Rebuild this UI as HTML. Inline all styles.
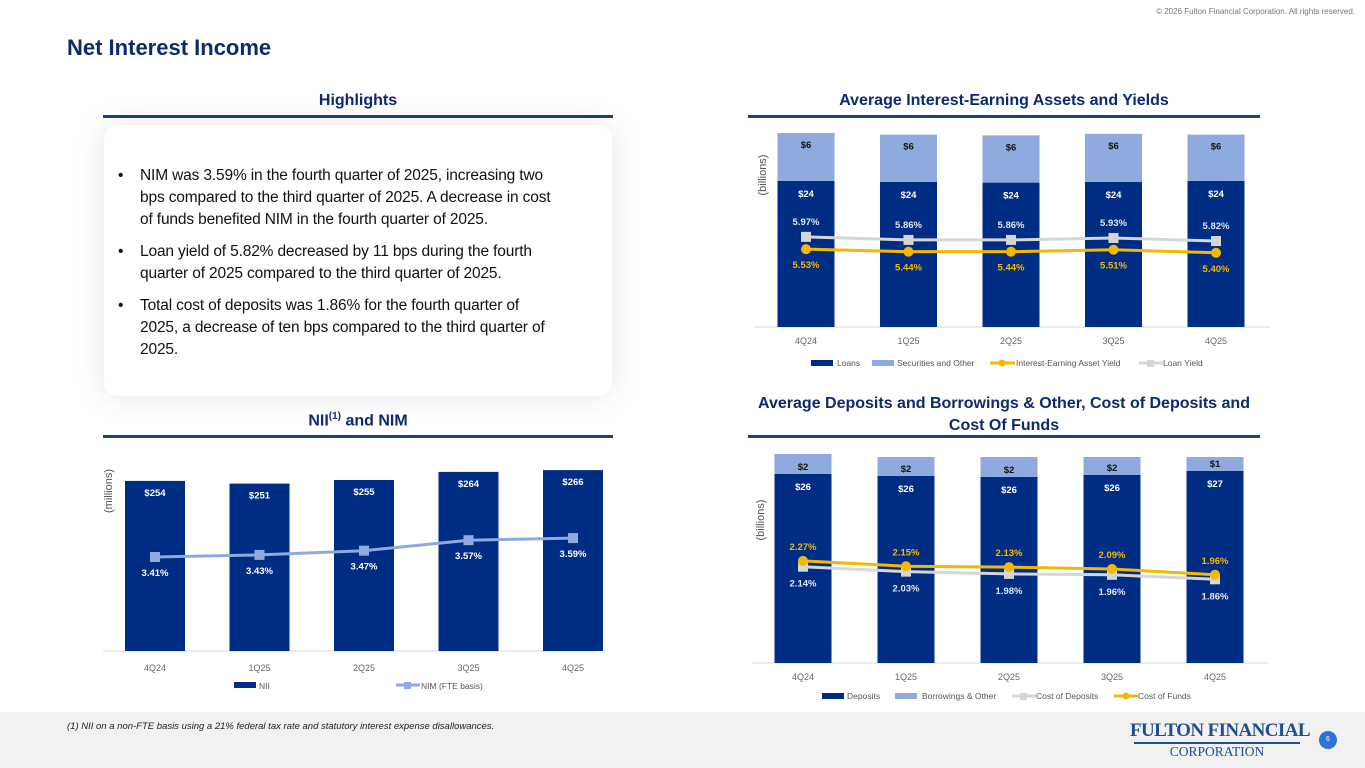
<!DOCTYPE html>
<html><head><meta charset="utf-8"><title>Net Interest Income</title>
<style>
body{margin:0;width:1365px;height:768px;position:relative;overflow:hidden;background:#fff;font-family:"Liberation Sans",sans-serif;}
.abs{position:absolute;}
.h{position:absolute;color:#0b2a6f;font-weight:bold;font-size:16px;text-align:center;}
.rule{position:absolute;height:3px;background:#223f7e;}
.card{position:absolute;left:104px;top:125px;width:508px;height:271px;background:#fff;border-radius:14px;box-shadow:0 0 30px rgba(0,0,0,0.10);}
.card ul{margin:0;padding:0 0 0 36px;list-style:none;color:#111;font-size:15.5px;line-height:22px;}
.card li{position:relative;margin-bottom:10px;white-space:nowrap;letter-spacing:-0.15px}
.card li:before{content:"•";position:absolute;left:-22px;}
</style></head><body>
<div class="abs" style="right:10px;top:7px;font-size:8px;color:#777;">© 2026 Fulton Financial Corporation.  All rights reserved.</div>
<div class="abs" style="left:67px;top:35px;font-size:22px;font-weight:bold;color:#0b2a6f;">Net Interest Income</div>

<div class="h" style="left:103px;width:510px;top:92px;">Highlights</div>
<div class="rule" style="left:103px;width:510px;top:115px;"></div>
<div class="card">
<ul style="margin-top:40px">
<li>NIM was 3.59% in the fourth quarter of 2025, increasing two<br>bps compared to the third quarter of 2025. A decrease in cost<br>of funds benefited NIM in the fourth quarter of 2025.</li>
<li>Loan yield of 5.82% decreased by 11 bps during the fourth<br>quarter of 2025 compared to the third quarter of 2025.</li>
<li>Total cost of deposits was 1.86% for the fourth quarter of<br>2025, a decrease of ten bps compared to the third quarter of<br>2025.</li>
</ul></div>

<div class="h" style="left:748px;width:512px;top:92px;">Average Interest-Earning Assets and Yields</div>
<div class="rule" style="left:748px;width:512px;top:115px;"></div>

<div class="h" style="left:103px;width:510px;top:411px;">NII<sup style="font-size:10px">(1)</sup> and NIM</div>
<div class="rule" style="left:103px;width:510px;top:435px;"></div>

<div class="h" style="left:740px;width:528px;top:393px;line-height:22px;">Average Deposits and Borrowings &amp; Other, Cost of Deposits and Cost Of Funds</div>
<div class="rule" style="left:748px;width:512px;top:435px;"></div>

<div class="abs" style="left:0;top:712px;width:1365px;height:56px;background:#f1f1f1;"></div>
<div class="abs" style="left:67px;top:721px;font-size:9.5px;font-style:italic;color:#222;">(1) NII on a non-FTE basis using a 21% federal tax rate and statutory interest expense disallowances.</div>
<div class="abs" style="left:1130px;top:721px;width:174px;text-align:center;font-family:'Liberation Serif',serif;color:#1f4e8c;white-space:nowrap;">
<div style="font-size:19px;font-weight:bold;letter-spacing:-0.6px;line-height:20px;">FULTON FINANCIAL</div>
<div style="border-top:2px solid #1f4e8c;margin:1px 4px 0;"></div>
<div style="font-size:13.5px;line-height:16px;">CORPORATION</div></div>
<div class="abs" style="left:1319px;top:731px;width:18px;height:18px;border-radius:50%;background:#2d74d6;color:#fff;font-size:7px;text-align:center;line-height:18px;">6</div>

<svg id="chart" class="abs" style="left:0;top:0" width="1365" height="768"></svg>
<script>
const NS="http://www.w3.org/2000/svg";
const svg=document.getElementById('chart');
// Chart A: assets
const catsA=["4Q24","1Q25","2Q25","3Q25","4Q25"];
const loansA=[24.0,23.9,23.8,23.9,24.0];
const secA=[6.0,5.9,5.9,6.0,5.8];
const loanYield=[5.97,5.86,5.86,5.93,5.82];
const ieaYield=[5.53,5.44,5.44,5.51,5.40];
// Chart B: NII
const catsB=["4Q24","1Q25","2Q25","3Q25","4Q25"];
const nii=[254,251,255,264,266];
const nim=[3.41,3.43,3.47,3.57,3.59];
// Chart C: deposits
const catsC=["4Q24","1Q25","2Q25","3Q25","4Q25"];
const depC=[26.0,25.8,25.7,25.9,26.3];
const borC=[2.0,1.9,2.0,1.8,1.4];
const depLabels=["$26","$26","$26","$26","$27"];
const borLabels=["$2","$2","$2","$2","$1"];
const costDep=[2.14,2.03,1.98,1.96,1.86];
const costFunds=[2.27,2.15,2.13,2.09,1.96];

function el(tag,attrs,parent){const e=document.createElementNS(NS,tag);for(const k in attrs)e.setAttribute(k,attrs[k]);(parent||svg).appendChild(e);return e;}
function txt(x,y,s,size,fill,weight,anchor){const t=el('text',{x:x,y:y,'font-size':size,fill:fill,'font-weight':weight||'normal','text-anchor':anchor||'middle','font-family':'Liberation Sans, sans-serif'});t.textContent=s;return t;}
const NAVY="#002d84",LIGHT="#8eaadf",GOLD="#f5b800",GRAY="#d6d6d6";

// ---- Chart A
const xA=i=>806+i*102.5, yA=v=>327-(v-5.75)*8, rA=r=>404-28*r;
el('line',{x1:755,x2:1270,y1:327,y2:327,stroke:"#d9d9d9"});
catsA.forEach((c,i)=>{
 const x=xA(i);
 const top=yA(loansA[i]+secA[i]);
 let b=el('rect',{x:x-28.5,y:yA(loansA[i]),width:57,height:327-yA(loansA[i]),fill:NAVY});
 
 let s=el('rect',{x:x-28.5,y:top,width:57,height:yA(loansA[i])-top,fill:LIGHT});
 
 txt(x,top+15,"$"+Math.round(secA[i]),9.5,"#111","bold");
 txt(x,yA(loansA[i])+16,"$"+Math.round(loansA[i]),9.5,"#fff","bold");
 txt(x,344,c,9,"#666");
});
function line(xs,ys,color,marker,w){el('polyline',{points:xs.map((x,i)=>x+","+ys[i]).join(" "),fill:"none",stroke:color,'stroke-width':w||3});
 xs.forEach((x,i)=>{if(marker=='sq'){const m=el('rect',{x:x-5,y:ys[i]-5,width:10,height:10,fill:color});}else{const m=el('circle',{cx:x,cy:ys[i],r:5,fill:color});}});}
line(catsA.map((c,i)=>xA(i)),loanYield.map(rA),GRAY,'sq');
line(catsA.map((c,i)=>xA(i)),ieaYield.map(rA),GOLD,'c');
loanYield.forEach((v,i)=>txt(xA(i),rA(v)-12,v.toFixed(2)+"%",9.5,"#dfe6f5","bold"));
ieaYield.forEach((v,i)=>txt(xA(i),rA(v)+19,v.toFixed(2)+"%",9.5,GOLD,"bold"));
let ya=txt(766,175,"(billions)",11,"#555");ya.setAttribute('transform','rotate(-90 766 175)');
// legend A
el('rect',{x:811,y:360,width:22,height:6,fill:NAVY});txt(837,366,"Loans",8.5,"#555","normal","start");
el('rect',{x:872,y:360,width:22,height:6,fill:LIGHT});txt(897,366,"Securities and Other",8.5,"#555","normal","start");
el('line',{x1:990,x2:1015,y1:363,y2:363,stroke:GOLD,'stroke-width':3});el('circle',{cx:1002,cy:363,r:3.5,fill:GOLD});txt(1016,366,"Interest-Earning Asset Yield",8.5,"#555","normal","start");
el('line',{x1:1139,x2:1163,y1:363,y2:363,stroke:GRAY,'stroke-width':3});el('rect',{x:1147,y:360,width:7,height:7,fill:GRAY});txt(1163,366,"Loan Yield",8.5,"#555","normal","start");

// ---- Chart B
const xB=i=>155+i*104.5, yB=v=>651-(v-65)*0.9, rB=r=>557-(r-3.41)*105;
el('line',{x1:103,x2:597,y1:651,y2:651,stroke:"#d9d9d9"});
catsB.forEach((c,i)=>{const x=xB(i);
 let b=el('rect',{x:x-30,y:yB(nii[i]),width:60,height:651-yB(nii[i]),fill:NAVY});
 
 txt(x,yB(nii[i])+15,"$"+nii[i],9.5,"#fff","bold");
 txt(x,671,c,9,"#666");});
line(catsB.map((c,i)=>xB(i)),nim.map(rB),LIGHT,'sq');
nim.forEach((v,i)=>txt(xB(i),rB(v)+19,v.toFixed(2)+"%",9.5,"#fff","bold"));
let yb=txt(112,491,"(millions)",11,"#555");yb.setAttribute('transform','rotate(-90 112 491)');
el('rect',{x:234,y:682,width:22,height:6,fill:NAVY});txt(259,689,"NII",8.5,"#555","normal","start");
el('line',{x1:396,x2:420,y1:685,y2:685,stroke:LIGHT,'stroke-width':3});el('rect',{x:404,y:682,width:7,height:7,fill:LIGHT});txt(421,689,"NIM (FTE basis)",8.5,"#555","normal","start");

// ---- Chart C
const xC=i=>803+i*103, yC=v=>663-(v-7.1)*10, rC=r=>663-45*r;
el('line',{x1:752,x2:1268,y1:663,y2:663,stroke:"#d9d9d9"});
catsC.forEach((c,i)=>{const x=xC(i);
 let b=el('rect',{x:x-28.5,y:yC(depC[i]),width:57,height:663-yC(depC[i]),fill:NAVY});
 
 let s=el('rect',{x:x-28.5,y:yC(depC[i])-borC[i]*10,width:57,height:borC[i]*10,fill:LIGHT});
 
 txt(x,yC(depC[i])-4,borLabels[i],9.5,"#111","bold");
 txt(x,yC(depC[i])+16,depLabels[i],9.5,"#fff","bold");
 txt(x,680,c,9,"#666");});
line(catsC.map((c,i)=>xC(i)),costDep.map(rC),GRAY,'sq');
line(catsC.map((c,i)=>xC(i)),costFunds.map(rC),GOLD,'c');
costDep.forEach((v,i)=>txt(xC(i),rC(v)+20,v.toFixed(2)+"%",9.5,"#dfe6f5","bold"));
costFunds.forEach((v,i)=>txt(xC(i),rC(v)-11,v.toFixed(2)+"%",9.5,GOLD,"bold"));
let yc=txt(764,520,"(billions)",11,"#555");yc.setAttribute('transform','rotate(-90 764 520)');
el('rect',{x:822,y:693,width:22,height:6,fill:NAVY});txt(847,699,"Deposits",8.5,"#555","normal","start");
el('rect',{x:895,y:693,width:22,height:6,fill:LIGHT});txt(922,699,"Borrowings & Other",8.5,"#555","normal","start");
el('line',{x1:1012,x2:1036,y1:696,y2:696,stroke:GRAY,'stroke-width':3});el('rect',{x:1020,y:693,width:7,height:7,fill:GRAY});txt(1036,699,"Cost of Deposits",8.5,"#555","normal","start");
el('line',{x1:1114,x2:1138,y1:696,y2:696,stroke:GOLD,'stroke-width':3});el('circle',{cx:1126,cy:696,r:3.5,fill:GOLD});txt(1138,699,"Cost of Funds",8.5,"#555","normal","start");
</script>
</body></html>
